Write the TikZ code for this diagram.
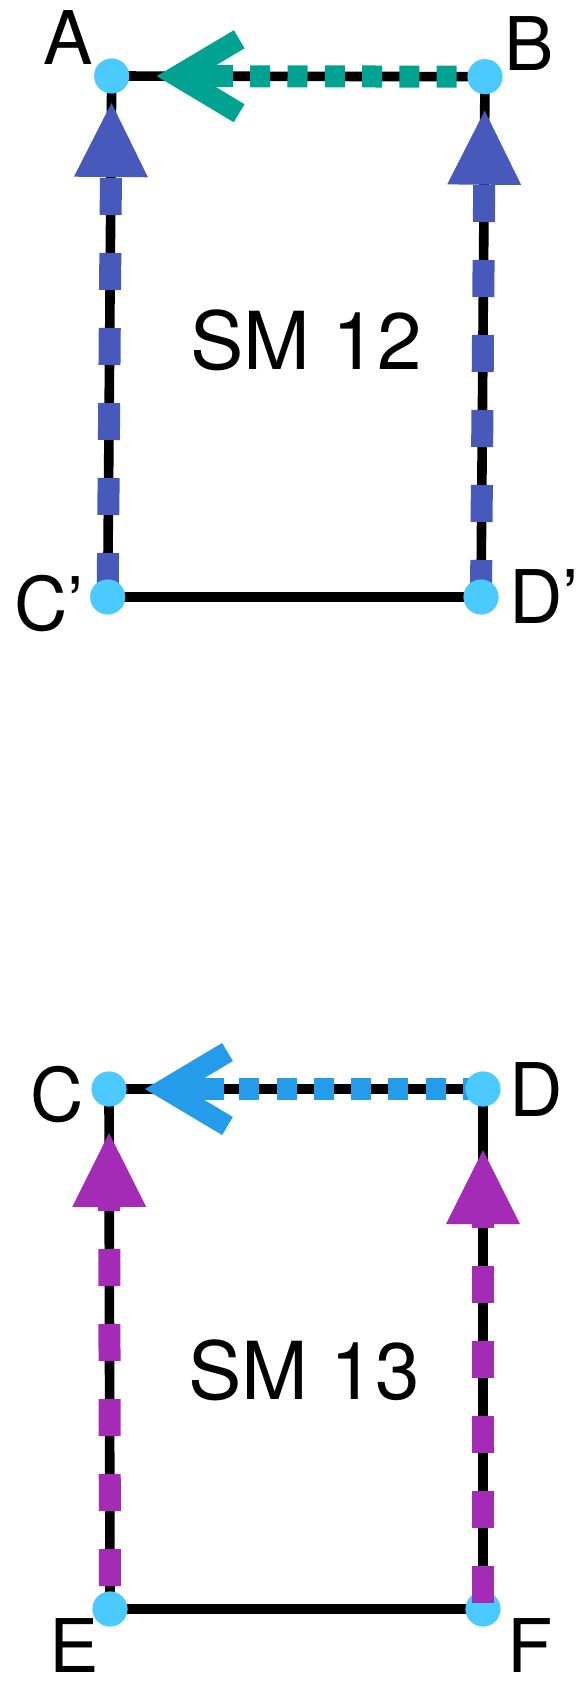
\documentclass[tikz,border=0pt]{standalone}
\usepackage{fontspec}
\setmainfont{TeX Gyre Heros}
\usetikzlibrary{arrows.meta}
\definecolor{smdot}{HTML}{4BCAFF}
\definecolor{smteal}{HTML}{00A391}
\definecolor{smindigo}{HTML}{4759BB}
\definecolor{smblue}{HTML}{249CEA}
\definecolor{smpurple}{HTML}{A42BB6}
\tikzset{
  side/.style={draw=black, line width=4.8pt},
  vtx/.style={circle, fill=smdot, minimum size=17.6pt, inner sep=0pt},
  lbl/.style={inner sep=0pt, font=\fontsize{37}{40}\selectfont},
  upline/.style={line width=11pt, dash pattern=on 18.5pt off 19pt,
    -{Triangle[length=37pt, width=37pt, line width=0pt]}},
  dotline/.style={line width=11pt, dash pattern=on 10pt off 8.65pt},
  stem/.style={line width=11pt, -{Straight Barb[length=31pt, width=37pt, line width=10.5pt]}}
}

\begin{document}
\begin{tikzpicture}[x=0.5pt, y=-0.5pt]
		%%%%% SM 12 %%%%%
		\useasboundingbox (0,0) rectangle (576,1682);
		
		\coordinate (A) at (111.7,76);
		\coordinate (B) at (485,76.7);
		\coordinate (Cp) at (107.7,597);
		\coordinate (Dp) at (481,597);
		\draw[side] (A) -- (B) -- (Dp) -- (Cp) -- cycle;
		
		\draw[upline, smindigo, dash phase=34pt, shorten >=13.5pt] (Cp) -- (A);
		\draw[upline, smindigo, shorten >=17pt] (Dp) -- (B);
		\draw[dotline, smteal, dash phase=4.5pt, shorten >=60pt] (B) -- (A);
		\draw[stem, smteal, shorten <=126.5pt, shorten >=22.5pt] (B) -- (A);
		
		\node[vtx] (dA) at (A) {};
		\node[vtx] (dB) at (B) {};
		\node[vtx] (dCp) at (Cp) {};
		\node[vtx] (dDp) at (Dp) {};
		
		\node[lbl] (lA) at (68,38) {A};
		\node[lbl] (lB) at (529,44) {B};
		\node[lbl] (lCp) at (49,604) {C’};
		\node[lbl] (lDp) at (544,597) {D’};
		\node[lbl, font=\fontsize{40}{44}\selectfont] (t12) at (306,340) {SM 12};
		
		%%%%% SM 13 %%%%%
		\coordinate (C) at (109,1089);
		\coordinate (D) at (483,1089);
		\coordinate (E) at (110,1609);
		\coordinate (F) at (483,1609);
		\draw[side] (C) -- (D) -- (F) -- (E) -- cycle;
		
		\draw[dotline, smblue, shorten >=57.5pt] (D) -- (C);
		\draw[stem, smblue, shorten <=129.5pt, shorten >=18pt] (D) -- (C);
		
		\node[vtx] (dC) at (C) {};
		\node[vtx] (dD) at (D) {};
		\node[vtx] (dE) at (E) {};
		\node[vtx] (dF) at (F) {};
		
		\draw[upline, smpurple, dash phase=26pt, shorten >=22pt] (E) -- (C);
		\draw[upline, smpurple, dash phase=34.5pt, shorten >=30.5pt] (F) -- (D);
		
		\node[lbl] (lC) at (57,1095) {C};
		\node[lbl] (lD) at (536,1090) {D};
		\node[lbl] (lE) at (74,1646) {E};
		\node[lbl] (lF) at (530,1646) {F};
		\node[lbl, font=\fontsize{40}{44}\selectfont] (t13) at (304,1370) {SM 13};
	\end{tikzpicture}
\end{document}
